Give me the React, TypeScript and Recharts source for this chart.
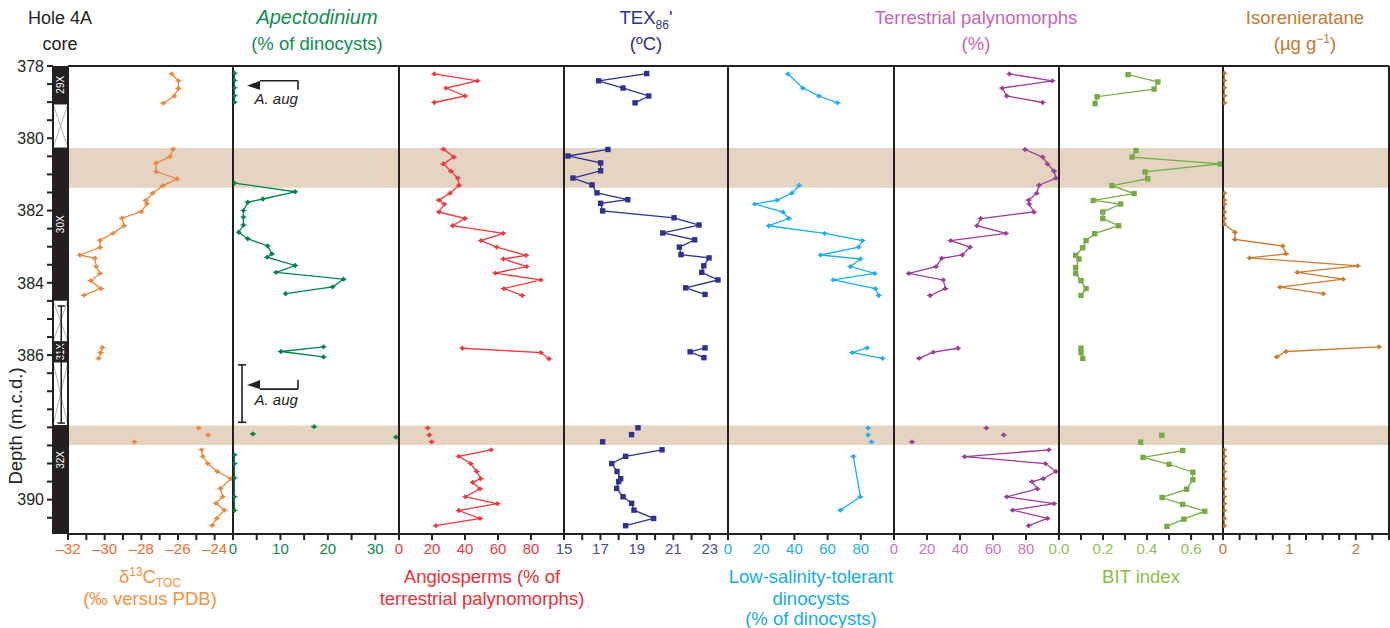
import React from 'react';
import {
  ScatterChart,
  Scatter,
  XAxis,
  YAxis,
  ReferenceArea,
  ReferenceLine,
  ReferenceDot,
} from 'recharts';

type Pt = [number, number]; // [value, depth (m.c.d.)]

// ---- depth axis ----
const depthDomain: [number, number] = [378, 390.95];
const depthTicks = [378, 378.5, 379, 379.5, 380, 380.5, 381, 381.5, 382, 382.5, 383, 383.5, 384, 384.5, 385, 385.5, 386, 386.5, 387, 387.5, 388, 388.5, 389, 389.5, 390, 390.5];
const depthLabels = [378, 380, 382, 384, 386, 390];

// shaded intervals
const bands: Pt[] = [[380.27, 381.37], [387.95, 388.49]];

// core recovery column
const coreSections = [
  { top: 378, bottom: 379.05, name: '29X', label: 378.52 },
  { top: 379.05, bottom: 380.27, name: '' },
  { top: 380.27, bottom: 384.48, name: '30X', label: 382.38 },
  { top: 384.48, bottom: 385.63, name: '' },
  { top: 385.63, bottom: 386.19, name: '31X', label: 385.91 },
  { top: 386.19, bottom: 387.95, name: '' },
  { top: 387.95, bottom: 390.95, name: '32X', label: 388.9 },
];

// ---- δ13C TOC ----
const d13c29X: Pt[] = [[-26.34, 378.22], [-25.98, 378.41], [-25.98, 378.62], [-26.2, 378.83], [-26.8, 379.03]];
const d13c30X: Pt[] = [[-26.26, 380.3], [-26.44, 380.51], [-27.2, 380.69], [-27.2, 380.92], [-26.04, 381.12], [-26.83, 381.31], [-27.38, 381.52], [-27.76, 381.72], [-27.69, 381.81], [-28.0, 382.03], [-29.05, 382.21], [-28.94, 382.42], [-29.54, 382.63], [-30.25, 382.82], [-30.25, 383.02], [-31.35, 383.23], [-30.53, 383.32], [-30.47, 383.55], [-30.25, 383.74], [-30.76, 383.94], [-30.2, 384.16], [-31.13, 384.34]];
const d13c31X: Pt[] = [[-30.13, 385.79], [-30.22, 385.93], [-30.33, 386.09]];
const d13cBand: Pt[] = [[-24.87, 388.02], [-24.36, 388.21], [-28.38, 388.4]];
const d13c32X: Pt[] = [[-24.71, 388.62], [-24.65, 388.8], [-24.38, 389.0], [-23.85, 389.22], [-23.12, 389.42], [-23.69, 389.69], [-23.56, 389.92], [-23.93, 390.1], [-23.47, 390.29], [-23.89, 390.52], [-24.14, 390.71]];

// ---- Apectodinium ----
const apec29X: Pt[] = [[0.3, 378.2], [0.3, 378.4], [0.3, 378.6], [0.3, 378.82], [0.3, 379.0]];
const apec30X: Pt[] = [[0.3, 381.24], [13.1, 381.48], [6.3, 381.68], [3.1, 381.77], [2.2, 382.0], [2.2, 382.18], [2.2, 382.4], [1.2, 382.6], [3.1, 382.78], [7.3, 382.98], [8.2, 383.2], [7.2, 383.29], [13.1, 383.52], [9.1, 383.71], [23.3, 383.9], [21.0, 384.11], [11.1, 384.3]];
const apec31X: Pt[] = [[19.1, 385.77], [10.1, 385.9], [19.1, 386.05]];
const apecBand: Pt[] = [[17.1, 387.98], [4.2, 388.18], [34.4, 388.27]];
const apec32X: Pt[] = [[0.3, 388.76], [0.3, 389.0], [0.3, 389.4], [0.3, 389.92], [0.3, 390.3]];

// ---- Angiosperms ----
const angio29X: Pt[] = [[21.4, 378.22], [47.5, 378.41], [28.5, 378.61], [40.0, 378.83], [21.4, 379.01]];
const angio30X: Pt[] = [[26.9, 380.3], [33.3, 380.52], [26.9, 380.71], [31.5, 380.91], [35.6, 381.1], [36.4, 381.3], [30.9, 381.52], [24.2, 381.71], [27.5, 381.82], [24.2, 382.04], [40.0, 382.22], [32.5, 382.42], [63.2, 382.63], [49.7, 382.83], [59.2, 383.01], [77.0, 383.24], [63.2, 383.34], [77.4, 383.55], [58.4, 383.73], [85.9, 383.92], [63.6, 384.16], [74.7, 384.35]];
const angio31X: Pt[] = [[38.4, 385.81], [85.9, 385.93], [90.9, 386.1]];
const angioBand: Pt[] = [[17.4, 388.02], [18.4, 388.21], [19.8, 388.4]];
const angio32X: Pt[] = [[55.8, 388.62], [36.2, 388.8], [43.4, 389.0], [47.1, 389.22], [49.5, 389.42], [44.6, 389.52], [49.1, 389.7], [40.2, 389.92], [59.6, 390.11], [36.2, 390.3], [49.1, 390.52], [22.4, 390.72]];

// ---- TEX86' ----
const tex29X: Pt[] = [[19.54, 378.21], [16.9, 378.41], [18.24, 378.61], [19.65, 378.83], [18.9, 379.02]];
const tex30X: Pt[] = [[17.41, 380.31], [15.22, 380.49], [17.01, 380.68], [17.01, 380.9], [15.49, 381.1], [16.54, 381.29], [16.81, 381.51], [18.5, 381.7], [17.01, 381.8], [17.12, 382.01], [21.04, 382.2], [22.41, 382.4], [20.42, 382.62], [22.17, 382.81], [21.33, 383.01], [21.42, 383.22], [22.96, 383.31], [22.67, 383.53], [22.56, 383.71], [23.45, 383.92], [21.68, 384.14], [22.74, 384.32]];
const tex31X: Pt[] = [[22.74, 385.8], [21.92, 385.91], [22.68, 386.07]];
const texBand: Pt[] = [[19.06, 388.01], [18.71, 388.2], [17.12, 388.4]];
const tex32X: Pt[] = [[20.38, 388.62], [18.38, 388.8], [17.62, 389.0], [17.91, 389.22], [18.11, 389.42], [18.0, 389.5], [17.89, 389.69], [18.24, 389.92], [18.71, 390.1], [18.84, 390.29], [19.92, 390.52], [18.38, 390.72]];

// ---- Low-salinity-tolerant dinocysts ----
const lowSal29X: Pt[] = [[36.1, 378.22], [45.1, 378.61], [54.8, 378.83], [65.9, 379.02]];
const lowSal30X: Pt[] = [[42.9, 381.3], [38.5, 381.52], [29.6, 381.71], [16.1, 381.82], [33.1, 382.04], [36.7, 382.22], [24.6, 382.42], [58.2, 382.63], [81.0, 382.83], [78.7, 383.01], [55.8, 383.23], [79.8, 383.34], [73.7, 383.55], [88.4, 383.74], [63.4, 383.92], [88.8, 384.16], [90.8, 384.35]];
const lowSal31X: Pt[] = [[83.8, 385.8], [74.9, 385.93], [93.1, 386.09]];
const lowSalBand: Pt[] = [[84.4, 388.02], [84.4, 388.21], [86.4, 388.4]];
const lowSal32X: Pt[] = [[75.5, 388.8], [79.8, 389.92], [67.7, 390.29]];

// ---- Terrestrial palynomorphs ----
const terr29X: Pt[] = [[69.9, 378.22], [96.0, 378.41], [65.6, 378.61], [68.3, 378.83], [90.1, 379.01]];
const terr30X: Pt[] = [[79.4, 380.31], [90.1, 380.52], [93.0, 380.71], [97.0, 380.91], [98.2, 381.1], [87.9, 381.3], [86.5, 381.52], [81.6, 381.71], [82.0, 381.82], [84.8, 382.04], [52.5, 382.22], [50.3, 382.42], [67.9, 382.63], [34.3, 382.83], [46.1, 383.01], [41.4, 383.23], [28.9, 383.32], [25.5, 383.55], [8.9, 383.74], [29.9, 383.92], [31.1, 384.16], [21.8, 384.35]];
const terr31X: Pt[] = [[38.8, 385.81], [23.8, 385.92], [15.2, 386.09]];
const terrBand: Pt[] = [[56.0, 388.02], [66.5, 388.21], [10.9, 388.4]];
const terr32X: Pt[] = [[93.9, 388.62], [42.8, 388.81], [91.7, 389.0], [98.2, 389.22], [90.5, 389.42], [83.6, 389.5], [86.9, 389.7], [68.3, 389.92], [97.0, 390.11], [71.9, 390.29], [93.1, 390.52], [81.6, 390.72]];

// ---- BIT index ----
const bit29X: Pt[] = [[0.314, 378.24], [0.449, 378.44], [0.432, 378.64], [0.173, 378.85], [0.164, 379.04]];
const bit30X: Pt[] = [[0.35, 380.34], [0.332, 380.52], [0.732, 380.71], [0.391, 380.93], [0.403, 381.12], [0.241, 381.31], [0.341, 381.53], [0.155, 381.72], [0.28, 381.82], [0.199, 382.04], [0.199, 382.22], [0.271, 382.42], [0.162, 382.64], [0.123, 382.83], [0.108, 383.03], [0.076, 383.24], [0.091, 383.34], [0.076, 383.58], [0.076, 383.74], [0.1, 383.94], [0.123, 384.16], [0.1, 384.35]];
const bit31X: Pt[] = [[0.1, 385.81], [0.1, 385.93], [0.108, 386.09]];
const bitBand: Pt[] = [[0.467, 388.22], [0.371, 388.41]];
const bit32X: Pt[] = [[0.562, 388.64], [0.382, 388.83], [0.5, 389.02], [0.608, 389.24], [0.608, 389.45], [0.58, 389.71], [0.468, 389.94], [0.562, 390.13], [0.662, 390.32], [0.567, 390.54], [0.49, 390.74]];

// ---- Isorenieratane ----
const iso29X: Pt[] = [[0.02, 378.2], [0.02, 378.4], [0.02, 378.6], [0.02, 378.82], [0.02, 379.02]];
const iso30X: Pt[] = [[0.02, 381.52], [0.02, 381.71], [0.02, 381.82], [0.02, 382.04], [0.02, 382.22], [0.015, 382.37], [0.18, 382.6], [0.18, 382.8], [0.9, 382.98], [0.95, 383.2], [0.4, 383.31], [2.03, 383.53], [1.12, 383.71], [1.81, 383.9], [0.86, 384.12], [1.51, 384.3]];
const iso31X: Pt[] = [[2.35, 385.77], [0.95, 385.9], [0.81, 386.05]];
const iso32X: Pt[] = [[0.02, 388.62], [0.02, 388.8], [0.02, 389.0], [0.02, 389.22], [0.02, 389.42], [0.02, 389.7], [0.02, 389.92], [0.02, 390.11], [0.02, 390.3], [0.02, 390.52], [0.02, 390.72]];

// ---- axis ticks ----
const d13cTicks = [-32, -31, -30, -29, -28, -27, -26, -25, -24, -23];
const d13cLabels = [-32, -30, -28, -26, -24];
const apecTicks = [0, 5, 10, 15, 20, 25, 30, 35];
const apecLabels = [0, 10, 20, 30];
const pctTicks = [0, 20, 40, 60, 80, 100];
const pctLabels = [0, 20, 40, 60, 80];
const texTicks = [15, 16, 17, 18, 19, 20, 21, 22, 23, 24];
const texLabels = [15, 17, 19, 21, 23];
const bitTicks = [0, 0.1, 0.2, 0.3, 0.4, 0.5, 0.6, 0.7];
const bitLabels = [0, 0.2, 0.4, 0.6];
const isoTicks = [0, 0.25, 0.5, 0.75, 1, 1.25, 1.5, 1.75, 2, 2.25, 2.5];
const isoLabels = [0, 1, 2];

const INK = '#231f20';
const BAND = '#e4d4c1';
const H = 628;
const M_TOP = 46; // + 20px top axis => plot top at 66
const M_BOTTOM = 64; // + 30px bottom axis => plot bottom at 534

type Seg = { pts: Pt[]; line: boolean };
type PanelDef = {
  x0: number;
  x1: number;
  domain: [number, number];
  ticks: number[];
  labels: number[];
  fmt: (v: number) => string;
  tickColor: string;
  color: string;
  marker: 'sq' | 'dot';
  segs: Seg[];
  last?: boolean;
  extra?: React.ReactNode;
};

const toData = (pts: Pt[]) => pts.map(([v, d]) => ({ v, d }));

const makeShape = (kind: 'sq' | 'dot', color: string) => (props: any) => {
  const { cx, cy } = props;
  if (cx == null || cy == null) return <g />;
  if (kind === 'sq') {
    return <rect x={cx - 2.7} y={cy - 2.7} width={5.4} height={5.4} fill={color} />;
  }
  return (
    <g>
      <circle cx={cx} cy={cy} r={1.9} fill={color} />
      <path d={`M${cx - 3},${cy}h6M${cx},${cy - 2.4}v4.8`} stroke={color} strokeWidth={1.1} />
    </g>
  );
};

const triangleShape = (dir: 'down' | 'up') => (props: any) => {
  const { cx, cy } = props;
  if (cx == null) return <g />;
  const pts =
    dir === 'down'
      ? `${cx - 13},${cy + 5} ${cx},${cy} ${cx},${cy + 9}`
      : `${cx - 13},${cy - 4} ${cx},${cy - 9} ${cx},${cy}`;
  return <polygon points={pts} fill={INK} />;
};

const textShape = (txt: string) => (props: any) => {
  const { cx, cy } = props;
  if (cx == null) return <g />;
  return (
    <text x={cx} y={cy} textAnchor="middle" fontSize={15} fontStyle="italic" fill={INK}>
      {txt}
    </text>
  );
};

const segLine = { stroke: INK, strokeWidth: 1.6 };

// A. aug range markers inside the Apectodinium panel
const apecExtra = [
  <ReferenceLine key="a1" xAxisId="b" segment={[{ x: 5.7, y: 378.41 }, { x: 13.7, y: 378.41 }]} {...segLine} />,
  <ReferenceLine key="a2" xAxisId="b" segment={[{ x: 13.7, y: 378.41 }, { x: 13.7, y: 378.66 }]} {...segLine} />,
  <ReferenceDot key="a3" xAxisId="b" x={5.7} y={378.41} shape={triangleShape('down')} />,
  <ReferenceDot key="a4" xAxisId="b" x={9.1} y={379.06} shape={textShape('A. aug')} />,
  <ReferenceLine key="b1" xAxisId="b" segment={[{ x: 5.7, y: 386.94 }, { x: 13.7, y: 386.94 }]} {...segLine} />,
  <ReferenceLine key="b2" xAxisId="b" segment={[{ x: 13.7, y: 386.94 }, { x: 13.7, y: 386.68 }]} {...segLine} />,
  <ReferenceDot key="b3" xAxisId="b" x={5.7} y={386.94} shape={triangleShape('up')} />,
  <ReferenceDot key="b4" xAxisId="b" x={9.1} y={387.38} shape={textShape('A. aug')} />,
  <ReferenceLine key="c1" xAxisId="b" segment={[{ x: 1.9, y: 386.27 }, { x: 1.9, y: 387.86 }]} {...segLine} />,
  <ReferenceLine key="c2" xAxisId="b" segment={[{ x: 1.05, y: 386.27 }, { x: 2.75, y: 386.27 }]} {...segLine} />,
  <ReferenceLine key="c3" xAxisId="b" segment={[{ x: 1.05, y: 387.86 }, { x: 2.75, y: 387.86 }]} {...segLine} />,
];

const intFmt = (v: number) => String(v);

const panels: PanelDef[] = [
  {
    x0: 68, x1: 233, domain: [-32, -23], ticks: d13cTicks, labels: d13cLabels,
    fmt: (v) => `\u2013${Math.abs(v)}`, tickColor: '#f26a2a', color: '#f0873a', marker: 'dot',
    segs: [
      { pts: d13c29X, line: true }, { pts: d13c30X, line: true }, { pts: d13c31X, line: true },
      { pts: d13cBand, line: false }, { pts: d13c32X, line: true },
    ],
  },
  {
    x0: 233, x1: 399, domain: [0, 35], ticks: apecTicks, labels: apecLabels,
    fmt: intFmt, tickColor: '#0b8a4a', color: '#00854a', marker: 'dot',
    segs: [
      { pts: apec29X, line: true }, { pts: apec30X, line: true }, { pts: apec31X, line: true },
      { pts: apecBand, line: false }, { pts: apec32X, line: true },
    ],
    extra: apecExtra,
  },
  {
    x0: 399, x1: 564, domain: [0, 100], ticks: pctTicks, labels: pctLabels,
    fmt: intFmt, tickColor: '#ee3a3f', color: '#ee3a3f', marker: 'dot',
    segs: [
      { pts: angio29X, line: true }, { pts: angio30X, line: true }, { pts: angio31X, line: true },
      { pts: angioBand, line: false }, { pts: angio32X, line: true },
    ],
  },
  {
    x0: 564, x1: 728, domain: [15, 24], ticks: texTicks, labels: texLabels,
    fmt: intFmt, tickColor: '#474b9e', color: '#2e3192', marker: 'sq',
    segs: [
      { pts: tex29X, line: true }, { pts: tex30X, line: true }, { pts: tex31X, line: true },
      { pts: texBand, line: false }, { pts: tex32X, line: true },
    ],
  },
  {
    x0: 728, x1: 894, domain: [0, 100], ticks: pctTicks, labels: pctLabels,
    fmt: intFmt, tickColor: '#22aee8', color: '#1cb0ea', marker: 'dot',
    segs: [
      { pts: lowSal29X, line: true }, { pts: lowSal30X, line: true }, { pts: lowSal31X, line: true },
      { pts: lowSalBand, line: false }, { pts: lowSal32X, line: true },
    ],
  },
  {
    x0: 894, x1: 1059, domain: [0, 100], ticks: pctTicks, labels: pctLabels,
    fmt: intFmt, tickColor: '#cc76b8', color: '#9c3d98', marker: 'dot',
    segs: [
      { pts: terr29X, line: true }, { pts: terr30X, line: true }, { pts: terr31X, line: true },
      { pts: terrBand, line: false }, { pts: terr32X, line: true },
    ],
  },
  {
    x0: 1059, x1: 1223, domain: [0, 0.745], ticks: bitTicks, labels: bitLabels,
    fmt: (v) => v.toFixed(1), tickColor: '#96c053', color: '#76ad43', marker: 'sq',
    segs: [
      { pts: bit29X, line: true }, { pts: bit30X, line: true }, { pts: bit31X, line: true },
      { pts: bitBand, line: false }, { pts: bit32X, line: true },
    ],
  },
  {
    x0: 1223, x1: 1389, domain: [0, 2.5], ticks: isoTicks, labels: isoLabels,
    fmt: intFmt, tickColor: '#b5773a', color: '#c97c2e', marker: 'dot',
    segs: [
      { pts: iso29X, line: true }, { pts: iso30X, line: true }, { pts: iso31X, line: true },
      { pts: iso32X, line: true },
    ],
    last: true,
  },
];

const axisStroke = { stroke: INK, strokeWidth: 2 };
const hasLabel = (labels: number[], v: number) => labels.some((l) => Math.abs(l - v) < 1e-9);

const Panel = ({ p }: { p: PanelDef }) => {
  const pad = 26;
  const w = p.x1 - p.x0;
  const shape = makeShape(p.marker, p.color);
  return (
    <div style={{ position: 'absolute', left: p.x0 - pad, top: 0 }}>
      <ScatterChart width={w + pad * 2} height={H} margin={{ top: M_TOP, bottom: M_BOTTOM, left: pad, right: pad }}>
        <XAxis
          xAxisId="t" orientation="top" type="number" dataKey="v" domain={p.domain} ticks={p.ticks}
          allowDataOverflow interval={0} height={20} tick={false} tickSize={5}
          axisLine={axisStroke} tickLine={axisStroke}
        />
        <XAxis
          xAxisId="b" orientation="bottom" type="number" dataKey="v" domain={p.domain} ticks={p.ticks}
          allowDataOverflow interval={0} height={30} tickSize={6} tickMargin={3}
          tickFormatter={(v: number) => (hasLabel(p.labels, v) ? p.fmt(v) : '')}
          tick={{ fill: p.tickColor, fontSize: 15 }}
          axisLine={axisStroke} tickLine={axisStroke}
        />
        <YAxis hide type="number" dataKey="d" domain={depthDomain} reversed allowDataOverflow />
        {bands.map(([a, b], i) => (
          <ReferenceArea key={`band${i}`} xAxisId="b" y1={a} y2={b} fill={BAND} fillOpacity={1} stroke="none" />
        ))}
        <ReferenceLine xAxisId="b" x={p.domain[0]} stroke={INK} strokeWidth={2} />
        {p.last && <ReferenceLine xAxisId="b" x={p.domain[1]} stroke={INK} strokeWidth={2} />}
        {p.extra}
        {p.segs.map((s, i) => (
          <Scatter
            key={i}
            xAxisId="b"
            data={toData(s.pts)}
            fill={p.color}
            shape={shape}
            line={s.line ? { stroke: p.color, strokeWidth: 1.3 } : false}
            lineType="joint"
            isAnimationActive={false}
          />
        ))}
      </ScatterChart>
    </div>
  );
};

const coreShape = (sec: (typeof coreSections)[number]) => (props: any) => {
  const { x, y, width, height } = props;
  if (x == null) return <g />;
  if (!sec.name) {
    return (
      <g>
        <rect x={x} y={y} width={width} height={height} fill="#fff" stroke={INK} strokeWidth={1} />
        <path d={`M${x},${y}L${x + width},${y + height}M${x + width},${y}L${x},${y + height}`} stroke="#9a9a9a" strokeWidth={0.8} />
      </g>
    );
  }
  const ly = y + ((sec.label! - sec.top) / (sec.bottom - sec.top)) * height;
  const small = height < 25;
  return (
    <g>
      <rect x={x} y={y} width={width} height={height} fill={INK} />
      <text
        transform={`translate(${x + width / 2 + 3.5},${ly}) rotate(-90)`}
        textAnchor="middle" fontSize={10} fill="#fff"
        textLength={small ? 17 : undefined} lengthAdjust="spacingAndGlyphs"
      >
        {sec.name}
      </text>
    </g>
  );
};

const coreAnchor = [{ x: 0.5, d: 378 }];

const CoreColumn = () => (
  <div style={{ position: 'absolute', left: 0, top: 0 }}>
    <ScatterChart width={68} height={H} margin={{ top: 66, bottom: H - 534, left: 0, right: 0 }}>
      <XAxis hide type="number" dataKey="x" domain={[0, 1]} allowDataOverflow />
      <YAxis
        type="number" dataKey="d" domain={depthDomain} reversed allowDataOverflow width={53}
        ticks={depthTicks} interval={0} tickSize={6} tickMargin={3}
        tickFormatter={(v: number) => (depthLabels.includes(v) ? String(v) : '')}
        tick={{ fill: INK, fontSize: 16 }}
        axisLine={axisStroke} tickLine={axisStroke}
      />
      {coreSections.filter((s) => !s.name).map((s, i) => (
        <ReferenceArea key={`w${i}`} x1={0} x2={1} y1={s.top} y2={s.bottom} ifOverflow="visible" shape={coreShape(s)} />
      ))}
      <ReferenceLine segment={[{ x: 0.55, y: 384.64 }, { x: 0.55, y: 387.88 }]} stroke={INK} strokeWidth={1.5} ifOverflow="visible" />
      <ReferenceLine segment={[{ x: 0.3, y: 384.64 }, { x: 0.8, y: 384.64 }]} stroke={INK} strokeWidth={1.5} ifOverflow="visible" />
      <ReferenceLine segment={[{ x: 0.3, y: 387.88 }, { x: 0.8, y: 387.88 }]} stroke={INK} strokeWidth={1.5} ifOverflow="visible" />
      {coreSections.filter((s) => s.name).map((s, i) => (
        <ReferenceArea key={`b${i}`} x1={0} x2={1} y1={s.top} y2={s.bottom} ifOverflow="visible" shape={coreShape(s)} />
      ))}
      <Scatter data={coreAnchor} shape={() => <g />} isAnimationActive={false} />
    </ScatterChart>
  </div>
);

const Titles = () => (
  <svg width={1390} height={H} style={{ position: 'absolute', left: 0, top: 0, pointerEvents: 'none' }}>
    <g fontSize={18.5} textAnchor="middle">
      <text x={60} y={24} fill={INK} fontSize={18}>Hole 4A</text>
      <text x={60} y={50} fill={INK} fontSize={18}>core</text>
      <text x={317} y={24} fill="#0d8f4f" fontStyle="italic" fontSize={20}>Apectodinium</text>
      <text x={317} y={50} fill="#0d8f4f">(% of dinocysts)</text>
      <text x={646} y={24} fill="#2e3192">
        TEX<tspan fontSize={12} dy={5}>86</tspan><tspan dy={-5}>'</tspan>
      </text>
      <text x={646} y={50} fill="#2e3192">(ºC)</text>
      <text x={976} y={24} fill="#c565b3">Terrestrial palynomorphs</text>
      <text x={976} y={50} fill="#c565b3">(%)</text>
      <text x={1305} y={24} fill="#bf7a35">Isorenieratane</text>
      <text x={1305} y={50} fill="#bf7a35">
        (µg g<tspan fontSize={12} dy={-7}>−1</tspan><tspan dy={7}>)</tspan>
      </text>

      <text x={150} y={583} fill="#f4923f">
        δ<tspan fontSize={12} dy={-7}>13</tspan><tspan dy={7}>C</tspan><tspan fontSize={12} dy={4}>TOC</tspan>
      </text>
      <text x={150} y={605} fill="#f4923f">(‰ versus PDB)</text>
      <text x={482} y={583} fill="#ec2f35">Angiosperms (% of</text>
      <text x={482} y={605} fill="#ec2f35">terrestrial palynomorphs)</text>
      <text x={811} y={583} fill="#12acec">Low-salinity-tolerant</text>
      <text x={811} y={605} fill="#12acec">dinocysts</text>
      <text x={811} y={625} fill="#12acec">(% of dinocysts)</text>
      <text x={1141} y={583} fill="#8bbd45">BIT index</text>
    </g>
    <text transform="translate(22,426) rotate(-90)" textAnchor="middle" fontSize={18.5} fill={INK}>
      Depth (m.c.d.)
    </text>
  </svg>
);

export default function App() {
  return (
    <div
      style={{
        position: 'absolute', left: 0, top: 0, width: 1390, height: H, background: '#fff',
        fontFamily: "'Liberation Sans', Arial, Helvetica, sans-serif", overflow: 'hidden',
      }}
    >
      <CoreColumn />
      {panels.map((p, i) => (
        <Panel key={i} p={p} />
      ))}
      <Titles />
    </div>
  );
}
